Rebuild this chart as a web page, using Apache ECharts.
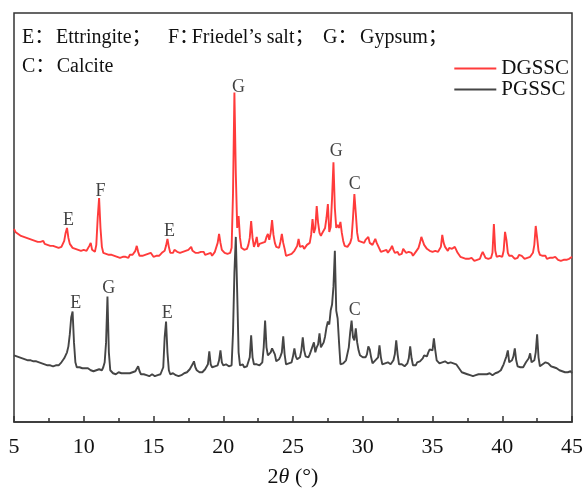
<!DOCTYPE html>
<html>
<head>
<meta charset="utf-8">
<script src="https://cdn.jsdelivr.net/npm/echarts@6/dist/echarts.min.js"></script>
<style>
html,body{margin:0;padding:0;background:#fff;}
#chart{width:586px;height:493px;}
</style>
</head>
<body>
<div id="chart"></div>
<script>
// 2θ sampling of the patterns (degrees)
const twoThetaStart = 5;
const twoThetaStep = 0.1;
const xTicks = [5, 10, 15, 20, 25, 30, 35, 40, 45];
const seriesNames = ['DGSSC', 'PGSSC'];

// DGSSC intensity (arb. units, offset pattern), one value per 0.1° from 5.0 to 45.0
const dgssc = [
194,191,192,189,190,187,188,186,187,185,
186,184,185,183,184,182,183,181,183,181,
180,182,179,180,178,180,177,179,177,178,
176,178,175,177,176,178,182,190,195,185,
179,177,175,176,174,175,173,175,172,174,
173,174,172,174,177,180,173,172,171,178,
205,225,195,176,170,168,169,167,168,166,
168,166,167,169,166,168,165,167,166,168,
166,167,165,168,166,168,170,172,177,171,
167,165,167,166,168,166,169,167,170,168,
166,168,167,169,167,168,170,169,172,177,
184,176,170,171,170,173,175,171,169,170,
169,171,170,172,171,173,175,176,172,171,
170,172,170,168,171,169,171,168,170,169,
168,170,167,169,171,170,180,189,180,173,
171,170,172,169,171,170,175,230,331,250,
195,207,185,175,176,173,175,174,178,185,
202,185,176,180,186,176,179,177,180,182,
181,186,189,183,190,203,188,180,176,178,
175,181,189,180,174,167,169,168,170,169,
170,172,174,177,184,176,175,177,174,176,
178,177,180,188,204,190,195,217,200,190,
187,190,192,195,205,219,191,196,225,261,
215,195,198,195,201,190,182,177,178,176,
178,180,185,205,229,210,190,182,183,181,
182,180,183,181,186,180,179,178,181,184,
180,177,174,171,169,172,171,173,170,172,
174,177,173,170,169,171,168,170,169,174,
172,170,168,171,169,170,167,169,171,173,
175,180,186,182,178,176,174,175,172,173,
171,173,172,174,171,173,176,188,180,176,
174,172,175,173,174,173,176,173,170,168,
166,164,165,163,164,162,164,163,165,163,
162,164,163,165,164,168,171,168,165,163,
164,163,165,170,199,172,166,165,167,165,
166,172,191,183,170,167,165,167,166,164,
166,165,168,166,167,165,164,166,165,167,
166,168,170,178,197,185,172,168,166,167,
165,167,164,166,165,163,165,164,166,164,
163,165,162,164,163,161,163,162,164,163,
166
];

// PGSSC intensity (arb. units), one value per 0.1° from 5.0 to 45.0
const pgssc = [
67,65,66,64,65,63,64,62,63,62,
62,61,62,60,61,60,61,59,60,59,
59,60,58,59,57,58,57,58,56,57,
57,58,57,58,60,62,64,67,70,76,
88,105,111,80,60,55,54,55,53,54,
53,54,52,54,53,52,53,51,53,52,
52,53,51,52,55,60,80,126,70,52,
50,49,50,48,49,50,48,49,50,49,
48,49,47,49,48,50,49,51,53,56,
51,48,47,48,46,47,48,46,47,48,
47,46,48,47,46,48,47,55,85,101,
70,52,48,47,49,48,47,48,46,48,
47,48,49,48,50,51,53,55,58,61,
55,52,51,50,52,50,51,53,52,58,
71,58,55,57,56,58,57,62,72,60,
57,56,58,57,56,58,57,90,150,186,
130,70,57,56,58,55,57,56,58,65,
87,65,58,57,58,56,57,58,60,75,
102,75,67,65,70,74,76,68,61,62,
63,66,70,86,68,58,57,59,58,60,
66,74,66,63,62,65,72,85,72,66,
64,65,68,72,76,80,70,75,78,89,
75,76,80,86,95,101,98,112,118,136,
172,112,104,80,58,57,59,60,62,64,
75,90,102,85,82,94,80,72,67,66,
65,64,65,68,76,73,65,59,60,62,
61,65,77,65,58,57,59,58,60,59,
58,60,62,68,82,68,58,57,58,57,
56,57,59,64,76,64,57,58,57,60,
59,61,63,64,67,65,66,70,73,72,
72,84,72,62,60,59,61,60,59,61,
60,59,61,60,62,59,61,58,56,54,
52,50,48,49,47,48,49,47,48,46,
48,47,49,48,47,48,46,48,47,48,
47,49,48,47,48,49,48,50,49,52,
55,58,62,66,72,60,59,62,66,74,
62,56,54,55,56,55,57,60,62,64,
69,60,58,62,70,88,65,56,57,58,
58,60,58,59,61,56,57,55,56,54,
53,52,54,51,52,50,51,50,49,51,
49
];

// Phase marks: letter, 2θ, intensity position of the letter
const peakLetters = ['E', 'F', 'E', 'G', 'G', 'C', 'E', 'G', 'E', 'C'];
const peakTheta   = [8.9, 11.2, 16.14, 21.1, 28.1, 29.43, 9.43, 11.8, 15.98, 29.43];
const peakLevel   = [203, 232, 192, 336, 272, 239, 119, 134, 109, 112];

const serif = "'Liberation Serif','Times New Roman','Noto Sans CJK SC',serif";
const toPairs = arr => arr.map((v, i) => [+(twoThetaStart + i * twoThetaStep).toFixed(1), v]);

const chart = echarts.init(document.getElementById('chart'), null, {renderer: 'canvas'});

const txt = (text, x, y, size) => ({
  type: 'text', left: x, top: y - size / 2,
  style: {text: text, font: size + 'px ' + serif, fill: '#111'}
});

chart.setOption({
  animation: false,
  backgroundColor: '#fff',
  grid: {left: 14, top: 13, width: 560, height: 411, show: true, borderColor: '#333', borderWidth: 1.5},
  legend: {
    data: seriesNames,
    orient: 'vertical',
    right: 17, top: 58,
    padding: 0,
    itemGap: 0,
    itemWidth: 42, itemHeight: 2,
    icon: 'rect',
    textStyle: {fontFamily: serif, fontSize: 21, color: '#111', lineHeight: 19}
  },
  xAxis: {
    type: 'value', min: 5, max: 45, interval: 5,
    axisLine: {lineStyle: {color: '#333', width: 1.5}},
    axisTick: {inside: true, length: 6, lineStyle: {color: '#333', width: 1.5}},
    minorTick: {show: true, splitNumber: 2, length: 4, lineStyle: {color: '#333', width: 1.5}},
    splitLine: {show: false},
    axisLabel: {fontFamily: serif, fontSize: 22, color: '#111', margin: 14,
      customValues: xTicks},
    name: '2{it|θ} (°)',
    nameLocation: 'middle', nameGap: 44,
    nameTextStyle: {fontFamily: serif, fontSize: 22, color: '#111',
      rich: {it: {fontFamily: serif, fontSize: 22, fontStyle: 'italic', color: '#111'}}}
  },
  yAxis: {type: 'value', min: 0, max: 411, show: false, splitLine: {show: false}},
  graphic: [
    txt('E：', 22, 37.5, 20), txt('Ettringite；', 56, 37.5, 20),
    txt('F：', 168, 37.5, 20), txt('Friedel’s salt；', 191.7, 37.5, 20),
    txt('G：', 323, 37.5, 20), txt('Gypsum；', 360, 37.5, 20),
    txt('C：', 22, 67, 20), txt('Calcite', 56.7, 67, 20)
  ],
  series: [
    {
      name: 'PGSSC', type: 'line', data: toPairs(pgssc), showSymbol: false, symbol: 'none',
      lineStyle: {color: '#454545', width: 1.9}, itemStyle: {color: '#454545'}, z: 2
    },
    {
      name: 'DGSSC', type: 'line', data: toPairs(dgssc), showSymbol: false, symbol: 'none',
      lineStyle: {color: '#ff3b3b', width: 1.9}, itemStyle: {color: '#ff3b3b'}, z: 3
    },
    {
      type: 'scatter', symbolSize: 0, silent: true, z: 4,
      data: peakLetters.map((l, i) => ({value: [peakTheta[i], peakLevel[i]], name: l})),
      label: {show: true, position: 'inside', formatter: p => p.name,
        fontFamily: serif, fontSize: 18, color: '#111'}
    }
  ]
});
</script>
</body>
</html>
